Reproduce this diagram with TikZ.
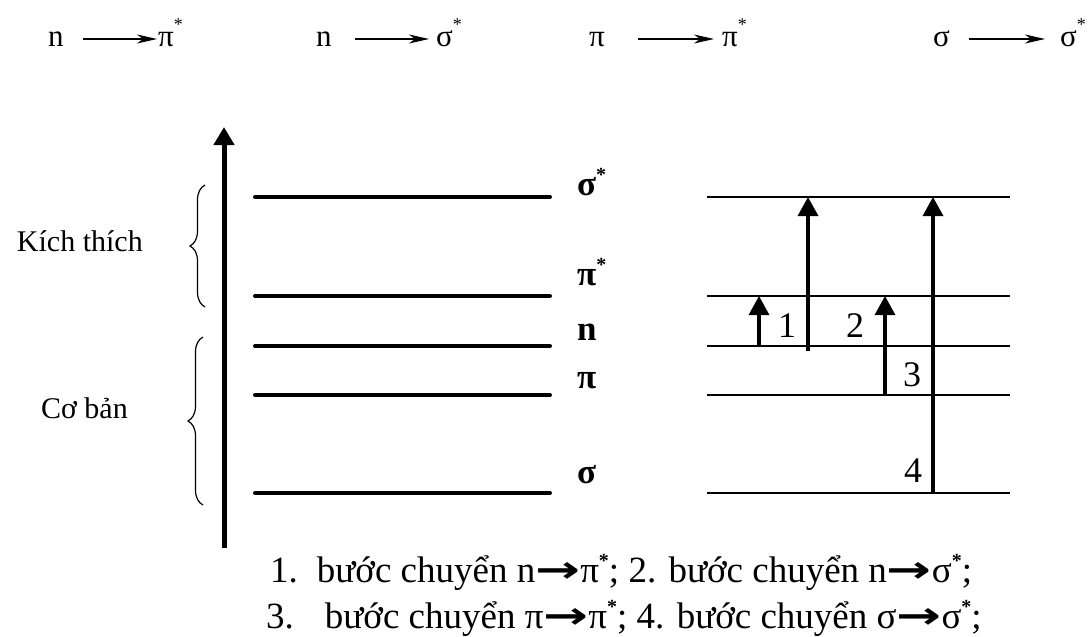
\documentclass[tikz,border=0pt]{standalone}
\usepackage{fontspec}
\setmainfont{Liberation Serif}
\newfontfamily\arrowfont{DejaVu Sans}
\usetikzlibrary{arrows.meta,decorations.pathreplacing}
\newcommand{\topstar}{\raisebox{16pt}{\fontsize{18}{18}\selectfont *}}
\newcommand{\capstar}{\raisebox{15pt}{\fontsize{20}{20}\selectfont\bfseries *}}
\newcommand{\caparrow}{\scalebox{1.45}[1]{\arrowfont\bfseries →}}
\begin{document}
\begin{tikzpicture}[x=1pt,y=-1pt,
  toptext/.style={font=\fontsize{31}{31}\selectfont, inner sep=0pt, anchor=base west},
  toparrow/.style={line width=1.8pt, -{Stealth[length=20pt,width=9pt,inset=6pt]}},
  lvlL/.style={line width=4pt, line cap=round},
  lvlR/.style={line width=2.8pt},
  upar/.style={line width=3.2pt, -{Triangle[length=19pt,width=20pt]}},
  axisarrow/.style={line width=5pt, -{Triangle[length=18pt,width=20pt]}},
  lvllabel/.style={font=\bfseries\fontsize{35}{35}\selectfont, inner sep=0pt, anchor=base west},
  numlabel/.style={font=\fontsize{36}{36}\selectfont, inner sep=0pt},
  sidetext/.style={font=\fontsize{30}{30}\selectfont, inner sep=0pt, anchor=base east},
  captext/.style={font=\fontsize{37}{37}\selectfont, inner sep=0pt, anchor=base west},
  bracestyle/.style={decorate, decoration={brace, amplitude=15pt}, line width=1.2pt}]
\useasboundingbox (0,0) rectangle (1090,637);

% top row
\node[toptext] (n1) at (48,46) {n};
\node[toptext] (p1) at (158,46) {π\topstar};
\node[toptext] (n2) at (316,46) {n};
\node[toptext] (s2) at (436,46) {σ\topstar};
\node[toptext] (p3) at (589,46) {π};
\node[toptext] (pp3) at (722,46) {π\topstar};
\node[toptext] (s4) at (933,46) {σ};
\node[toptext] (ss4) at (1060,46) {σ\topstar};
\draw[toparrow] ([shift={(19,-7)}]n1.base east) -- ([shift={(-1,-7)}]p1.base west);
\draw[toparrow] ([shift={(23,-7)}]n2.base east) -- ([shift={(-7,-7)}]s2.base west);
\draw[toparrow] ([shift={(33,-7)}]p3.base east) -- ([shift={(-8,-7)}]pp3.base west);
\draw[toparrow] ([shift={(19,-7)}]s4.base east) -- ([shift={(-15,-7)}]ss4.base west);

% axis
\coordinate (axb) at (224,548);
\coordinate (axt) at (224,127);
\draw[axisarrow] (axb) -- (axt);

% left levels
\draw[lvlL] (255,197) -- (550,197);
\draw[lvlL] (255,296) -- (550,296);
\draw[lvlL] (255,346) -- (550,346);
\draw[lvlL] (255,395) -- (550,395);
\draw[lvlL] (255,493) -- (550,493);

% level labels
\node[lvllabel] (lss) at (577,195) {σ\raisebox{14pt}{\fontsize{20}{20}\selectfont *}};
\node[lvllabel] (lps) at (577,285) {π\raisebox{14pt}{\fontsize{20}{20}\selectfont *}};
\node[lvllabel] (ln) at (577,340) {n};
\node[lvllabel] (lp) at (577,388) {π};
\node[lvllabel] (ls) at (577,483) {σ};

% right levels
\draw[lvlR] (707,197) -- (1010,197);
\draw[lvlR] (707,296) -- (1010,296);
\draw[lvlR] (707,346) -- (1010,346);
\draw[lvlR] (707,395) -- (1010,395);
\draw[lvlR] (707,493) -- (1010,493);

% transitions
\coordinate (a1b) at (759,347); \coordinate (a1t) at (759,296);
\coordinate (a2b) at (808,351); \coordinate (a2t) at (808,197);
\coordinate (a3b) at (885,396); \coordinate (a3t) at (885,296);
\coordinate (a4b) at (933,494); \coordinate (a4t) at (933,197);
\draw[upar] (a1b) -- (a1t);
\draw[upar] (a2b) -- (a2t);
\draw[upar] (a3b) -- (a3t);
\draw[upar] (a4b) -- (a4t);
\node[numlabel] (t1) at (787,326) {1};
\node[numlabel] (t2) at (855,326) {2};
\node[numlabel] (t3) at (912,375) {3};
\node[numlabel] (t4) at (913,471) {4};

% braces and side texts
\draw[bracestyle] (205,307) -- (205,185);
\draw[bracestyle] (203,505) -- (203,337);
\node[sidetext] (kt) at (143,251) {Kích thích};
\node[sidetext] (cb) at (128,418) {Cơ bản};

% caption
\node[captext] (c1) at (270,582) {1.\hspace{19pt}bước chuyển n\caparrow π\capstar; 2. bước chuyển n\caparrow σ\capstar;};
\node[captext] (c2) at (266,628) {3.\hspace{31pt}bước chuyển π\caparrow π\capstar; 4. bước chuyển σ\caparrow σ\capstar;};
\end{tikzpicture}
\end{document}
